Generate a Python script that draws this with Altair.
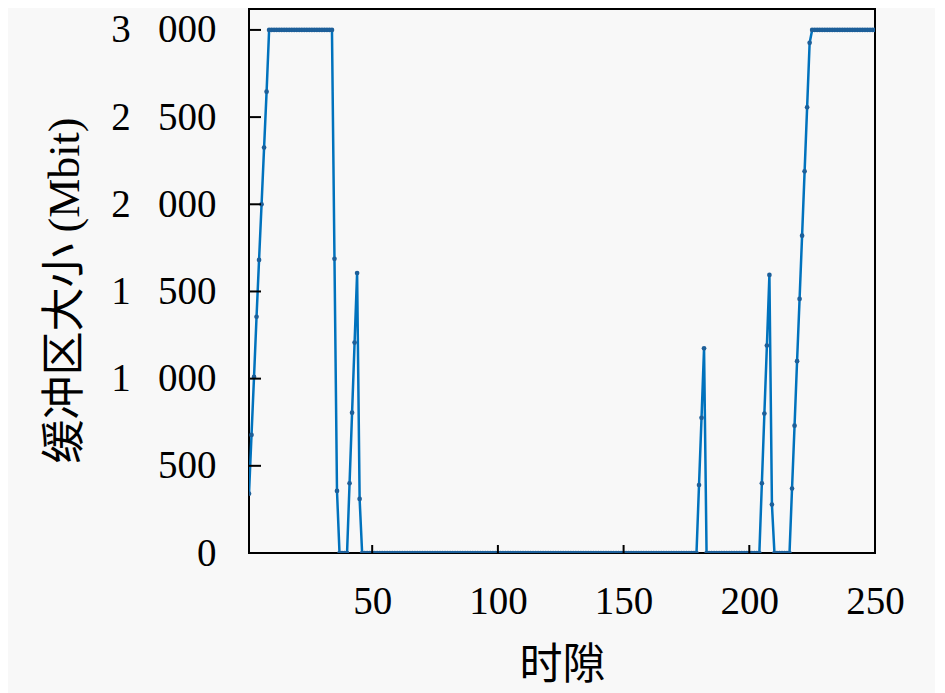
import altair as alt
import pandas as pd

# time slots and buffer size (Mbit)
slots = list(range(1, 251))
ramp_up_1 = [340, 677, 1010, 1355, 1681, 2000, 2325, 2646]
drop_1 = [1687, 356]
spike_1 = [400, 805, 1207, 1606, 310]
spike_2 = [390, 775, 1174]
spike_3 = [400, 800, 1190, 1595, 278]
ramp_up_2 = [370, 730, 1100, 1457, 1820, 2189, 2556, 2926]
buffer_mbit = (ramp_up_1 + [3000] * 26 + drop_1 + [0] * 4 + spike_1 + [0] * 134
               + spike_2 + [0] * 22 + spike_3 + [0] * 7 + ramp_up_2 + [3000] * 26)

x_ticks = [50, 100, 150, 200, 250]
y_ticks = [0, 500, 1000, 1500, 2000, 2500, 3000]

df = pd.DataFrame({"slot": slots, "buf": buffer_mbit})
xt = pd.DataFrame({"slot": x_ticks})
yt = pd.DataFrame({"buf": y_ticks})

W, H = 626, 544
LINE = "#0072BD"
SERIF = "Liberation Serif"
TFONT = "Liberation Serif, Noto Sans CJK SC, serif"

xscale = alt.Scale(domain=[1, 250], nice=False, zero=False)
yscale = alt.Scale(domain=[0, 3120], nice=False)

xaxis = alt.Axis(values=x_ticks, title="时隙", ticks=False, domain=False, grid=False,
                 labelFont=SERIF, labelFontSize=39, labelColor="black", labelPadding=29,
                 titleFont=TFONT, titleFontSize=43, titleFontWeight="normal", titleColor="black",
                 titleY=112, titleBaseline="middle", labelFlush=False)
yaxis = alt.Axis(values=y_ticks, title="缓冲区大小 (Mbit)", ticks=False, domain=False, grid=False,
                 labelFont=SERIF, labelFontSize=39, labelColor="black", labelPadding=33,
                 labelExpr="replace(format(datum.value, ','), ',', '\u2002\u2009')",
                 titleFont=TFONT, titleFontSize=44, titleFontWeight="normal", titleColor="black",
                 titleX=-184, titleY=281, titleAngle=-90, titleBaseline="middle", titleAlign="center",
                 labelFlush=False)

X = alt.X("slot:Q", scale=xscale, axis=xaxis, title="时隙")
Y = alt.Y("buf:Q", scale=yscale, axis=yaxis, title="缓冲区大小 (Mbit)")

base = alt.Chart(df)
line = base.mark_line(color=LINE, strokeWidth=2.5, clip=True).encode(x=X, y=Y)
pts = base.mark_point(filled=True, color="#1d5f99", size=22, opacity=1, clip=True).encode(x=X, y=Y)
xtick_marks = alt.Chart(xt).mark_rule(color="black", strokeWidth=2).encode(
    x=X, y=alt.value(H), y2=alt.value(H - 8),
)
ytick_marks = alt.Chart(yt).mark_rule(color="black", strokeWidth=2).encode(
    y=Y, x=alt.value(0), x2=alt.value(12),
)

chart = alt.layer(line, pts, xtick_marks, ytick_marks).properties(
    width=W, height=H,
    autosize=alt.AutoSizeParams(type="none"),
    padding={"left": 241, "top": 1, "right": 60, "bottom": 140},
    background="#f8f8f8",
).configure_view(stroke="black", strokeWidth=2, fill="#f8f8f8")

chart.save("out.html", embed_options={"renderer": "svg", "actions": False})
